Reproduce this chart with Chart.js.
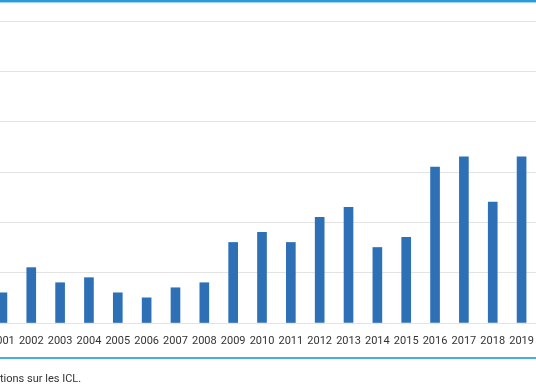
<!DOCTYPE html>
<html>
<head>
<meta charset="utf-8">
<script src="https://cdn.jsdelivr.net/npm/chart.js@4"></script>
<style>
  html, body { margin:0; padding:0; width:536px; height:386px; overflow:hidden; background:#fff; }
  #wrap { position:absolute; left:-12px; top:0; width:548px; height:386px; }
  #note { position:absolute; left:0; top:372px; font: 11px Roboto, sans-serif; color:#333; white-space:nowrap; }
</style>
</head>
<body>
<div id="wrap"><canvas id="c"></canvas></div>
<div id="note">tions sur les ICL.</div>
<script>
const years = ["2001","2002","2003","2004","2005","2006","2007","2008","2009","2010","2011","2012","2013","2014","2015","2016","2017","2018","2019"];
const values = [6, 11, 8, 9, 6, 5, 7, 8, 16, 18, 16, 21, 23, 15, 17, 31, 33, 24, 33];
const yTicks = [0, 10, 20, 30, 40, 50, 60];

const frameLines = {
  id: 'frameLines',
  afterDraw(chart) {
    const ctx = chart.ctx;
    const w = chart.width;
    ctx.save();
    ctx.fillStyle = '#2a9ad8';
    ctx.fillRect(0, 0, w, 2);
    ctx.fillStyle = '#9fd3f0';
    ctx.fillRect(0, 2, w, 1);
    ctx.fillStyle = '#45afe3';
    ctx.fillRect(0, 357, w, 2);
    ctx.restore();
  }
};

new Chart(document.getElementById('c'), {
  type: 'bar',
  data: {
    labels: years,
    datasets: [{ data: values, backgroundColor: '#2e70b6', barThickness: 9 }]
  },
  options: {
    responsive: true,
    maintainAspectRatio: false,
    animation: false,
    layout: { padding: { top: 21, left: 0, right: 0, bottom: 34 } },
    plugins: { legend: { display: false }, tooltip: { enabled: false } },
    scales: {
      x: {
        grid: { display: false, drawTicks: false },
        border: { display: true, color: '#e3e3e3' },
        ticks: { color: '#333', padding: 12, maxRotation: 0, autoSkip: false, font: { family: 'Roboto', size: 11 } },
        afterFit: (axis) => { axis.paddingLeft = 0; axis.paddingRight = 0; axis.height = 29; }
      },
      y: {
        min: yTicks[0], max: yTicks[yTicks.length - 1],
        afterBuildTicks: (axis) => { axis.ticks = yTicks.map(v => ({ value: v })); },
        afterFit: (axis) => { axis.width = 0; },
        grid: { color: '#e3e3e3', drawTicks: false },
        border: { display: false },
        ticks: { display: false }
      }
    }
  },
  plugins: [frameLines]
});
</script>
</body>
</html>
